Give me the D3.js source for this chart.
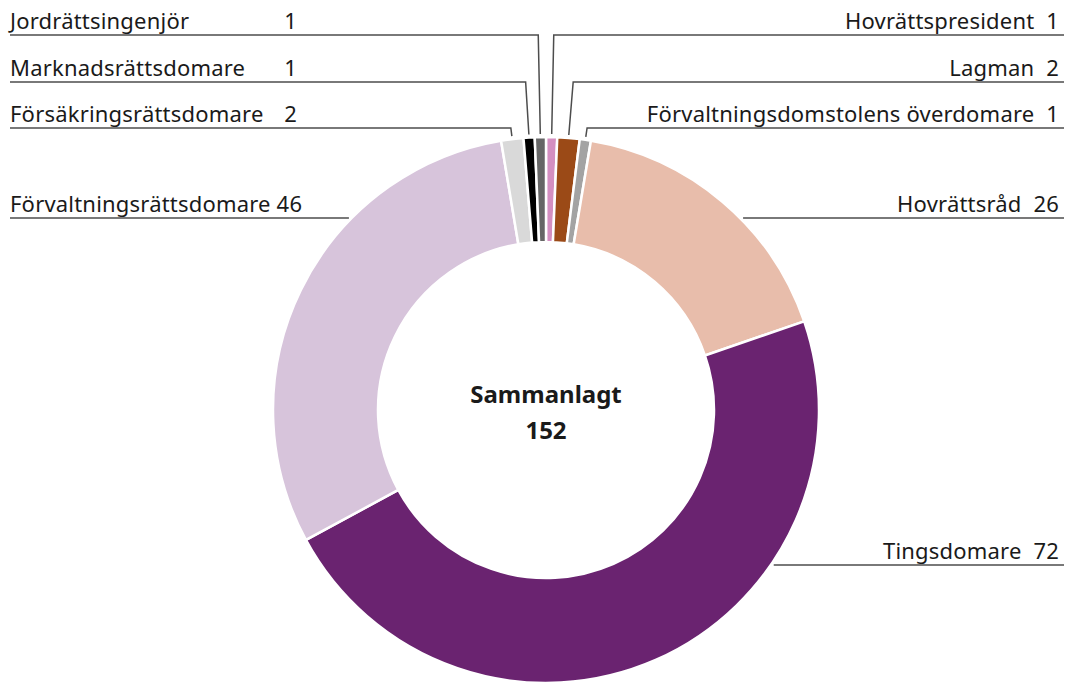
<!DOCTYPE html>
<html>
<head>
<meta charset="utf-8">
<script src="https://cdn.jsdelivr.net/npm/d3@7"></script>
<style>
  body { margin: 0; background: #fff; }
  text { font-family: "Noto Sans", sans-serif; fill: #1a1a1a; }
  .lbl { font-size: 22px; letter-spacing: 0.2px; white-space: pre; }
  .total { font-size: 24px; font-weight: bold; }
</style>
</head>
<body>
<div id="chart"></div>
<script>
// slices, clockwise from twelve o'clock
const categories = [
  'Hovrättspresident',
  'Lagman',
  'Förvaltningsdomstolens överdomare',
  'Hovrättsråd',
  'Tingsdomare',
  'Förvaltningsrättsdomare',
  'Försäkringsrättsdomare',
  'Marknadsrättsdomare',
  'Jordrättsingenjör'
]
const values = [1, 2, 1, 26, 72, 46, 2, 1, 1]
const colors = ['#d48fc1', '#9b4a17', '#a3a3a3', '#e8bdab', '#6a2370', '#d7c4db', '#d9d9d9', '#000000', '#666666']
const totalTitle = 'Sammanlagt'

const width = 1069, height = 682
const cx = 546, cy = 410
const outerR = 273, innerR = 168

// label rows (y of the underline) - top rows are stacked, rest sit beside the ring
const rowY = [35, 82, 128, 218, 565]
// which row each slice's label goes on
const labelRow = [0, 1, 2, 3, 4, 3, 2, 1, 0]

const data = categories.map((c, i) => ({ name: c, value: values[i], color: colors[i], row: labelRow[i] }))

const svg = d3.select('#chart')
  .append('svg')
  .attr('width', width)
  .attr('height', height)

const pie = d3.pie()
  .sort(null)
  .value(d => d.value)

const arc = d3.arc()
  .innerRadius(innerR)
  .outerRadius(outerR)

const arcs = pie(data)

const g = svg.append('g').attr('transform', `translate(${cx},${cy})`)

g.selectAll('path.slice')
  .data(arcs)
  .enter()
  .append('path')
  .attr('class', 'slice')
  .attr('d', arc)
  .attr('fill', d => d.data.color)
  .attr('stroke', '#fff')
  .attr('stroke-width', 2.5)

// total in the middle
const total = d3.sum(values)
g.append('text').attr('class', 'total')
  .attr('text-anchor', 'middle')
  .attr('y', -7)
  .text(totalTitle)
g.append('text').attr('class', 'total')
  .attr('text-anchor', 'middle')
  .attr('y', 29)
  .text(total)

const leftX = 10, rightX = 1064
const leftValX = 297

const lines = svg.append('g')
  .attr('fill', 'none')
  .attr('stroke', '#4d4d4d')
  .attr('stroke-width', 1.5)

arcs.forEach(a => {
  const mid = (a.startAngle + a.endAngle) / 2
  const side = mid < Math.PI ? 'right' : 'left'
  const ly = rowY[a.data.row]
  const small = a.data.row < 3
  let pts
  if (small) {
    // start just above the slice, go out along the radius to the row, then across
    const r0 = outerR + 3
    const px = cx + r0 * Math.sin(mid), py = cy - r0 * Math.cos(mid)
    const ex = cx + (cy - ly) * Math.tan(mid)
    pts = [[px, py], [ex, ly], [side === 'right' ? rightX : leftX, ly]]
  } else {
    const dx = Math.sqrt(outerR * outerR - (ly - cy) * (ly - cy)) + 3
    const sx = side === 'right' ? cx + dx : cx - dx
    pts = [[sx, ly], [side === 'right' ? rightX : leftX, ly]]
  }
  lines.append('path').attr('d', d3.line()(pts))

  const ty = ly - 6
  if (side === 'right') {
    svg.append('text').attr('class', 'lbl')
      .attr('x', rightX - 5).attr('y', ty)
      .attr('text-anchor', 'end')
      .text(a.data.name + '  ' + a.data.value)
  } else if (small) {
    svg.append('text').attr('class', 'lbl')
      .attr('x', leftX).attr('y', ty)
      .text(a.data.name)
    svg.append('text').attr('class', 'lbl')
      .attr('x', leftValX).attr('y', ty)
      .attr('text-anchor', 'end')
      .text(a.data.value)
  } else {
    svg.append('text').attr('class', 'lbl')
      .attr('x', leftX).attr('y', ty)
      .text(a.data.name + ' ' + a.data.value)
  }
})
</script>
</body>
</html>
